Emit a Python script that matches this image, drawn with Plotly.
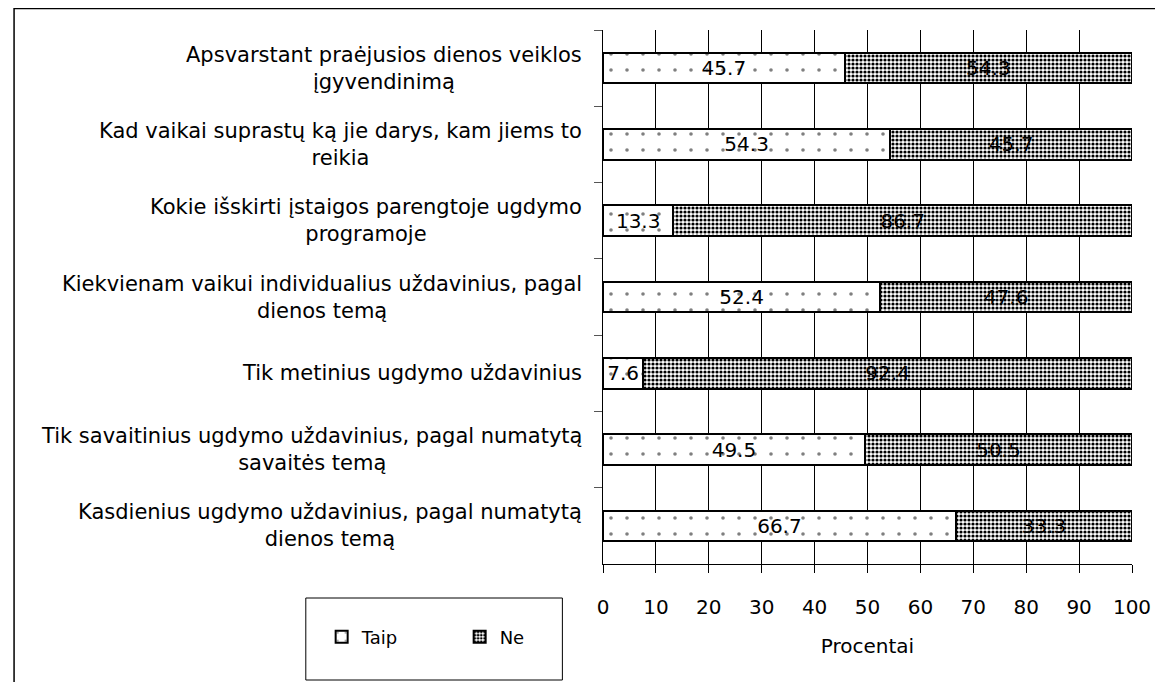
import plotly.graph_objects as go

categories = [
    "Apsvarstant praėjusios dienos veiklos<br>įgyvendinimą",
    "Kad vaikai suprastų ką jie darys, kam jiems to<br>reikia",
    "Kokie išskirti įstaigos parengtoje ugdymo<br>programoje",
    "Kiekvienam vaikui individualius uždavinius, pagal<br>dienos temą",
    "Tik metinius ugdymo uždavinius",
    "Tik savaitinius ugdymo uždavinius, pagal numatytą<br>savaitės temą",
    "Kasdienius ugdymo uždavinius, pagal numatytą<br>dienos temą",
]
taip = [45.7, 54.3, 13.3, 52.4, 7.6, 49.5, 66.7]
ne = [54.3, 45.7, 86.7, 47.6, 92.4, 50.5, 33.3]
x_ticks = list(range(0, 101, 10))

FONT = "DejaVu Sans, Liberation Sans, Arial, sans-serif"
FS = 20

# page is offset by the 8px body margin; figure coordinates below compensate
W, H = 1155, 674
L, R, T, B = 595, 26, 22, 118
PW, PH = W - L - R, H - T - B


def px_x(fx):  # figure px -> paper x
    return (fx - L) / PW


def px_y(fy):  # figure px -> paper y
    return (H - B - fy) / PH


fig = go.Figure()
fig.add_trace(go.Bar(
    y=categories, x=taip, name="Taip", orientation="h",
    text=[f"{v:.1f}" for v in taip], textposition="inside",
    insidetextanchor="middle", textangle=0,
    textfont=dict(family=FONT, size=FS, color="black"),
    marker=dict(color="white", line=dict(color="black", width=2),
                pattern=dict(shape=".", fgcolor="black", bgcolor="white",
                             size=16, solidity=0.04, fillmode="overlay")),
))
fig.add_trace(go.Bar(
    y=categories, x=ne, name="Ne", orientation="h",
    text=[f"{v:.1f}" for v in ne], textposition="inside",
    insidetextanchor="middle", textangle=0,
    textfont=dict(family=FONT, size=FS, color="black"),
    marker=dict(color="white", line=dict(color="black", width=2),
                pattern=dict(shape=".", fgcolor="black", bgcolor="white",
                             size=4, solidity=0.5, fillmode="replace")),
))

# category labels, centred multi-line, right-aligned next to the axis
for c in categories:
    fig.add_annotation(x=px_x(576), xref="paper", y=c, yref="y", text=c,
                       showarrow=False, xanchor="right", align="center",
                       font=dict(family=FONT, size=21, color="black"))

# legend box
fig.add_shape(type="rect", xref="paper", yref="paper",
              x0=px_x(295), x1=px_x(554), y0=px_y(672), y1=px_y(590),
              line=dict(color="black", width=1), fillcolor="white", layer="above")

fig.update_layout(
    barmode="stack",
    bargap=0.6,
    width=W, height=H,
    margin=dict(l=L, r=R, t=T, b=B),
    paper_bgcolor="white", plot_bgcolor="white",
    font=dict(family=FONT, size=FS, color="black"),
    uniformtext=dict(mode="show", minsize=FS),
    showlegend=True,
    legend=dict(orientation="h", x=px_x(311), y=px_y(629), xanchor="left", yanchor="middle",
                borderwidth=0, bgcolor="rgba(0,0,0,0)",
                font=dict(family=FONT, size=18, color="black"),
                entrywidth=93, itemwidth=30,
                traceorder="normal"),
    xaxis=dict(range=[0, 100], tickvals=x_ticks, showgrid=True, gridcolor="black",
               gridwidth=1, showline=True, linecolor="black", linewidth=1,
               ticks="outside", ticklen=8, tickcolor="black", ticklabelstandoff=17,
               title=dict(text="Procentai", font=dict(family=FONT, size=FS), standoff=20),
               tickfont=dict(family=FONT, size=FS), zeroline=False, fixedrange=True),
    yaxis=dict(autorange="reversed", showticklabels=False, showline=True,
               linecolor="black", linewidth=1, ticks="outside", ticklen=8,
               tickcolor="#555", tickson="boundaries", showgrid=False, fixedrange=True),
)

# outer chart frame
fig.add_shape(type="rect", xref="paper", yref="paper",
              x0=px_x(0.5), x1=px_x(W + 20), y0=px_y(H + 20), y1=px_y(0.5),
              line=dict(color="black", width=1.5), fillcolor="rgba(0,0,0,0)", layer="above")

fig.write_html("out.html")
